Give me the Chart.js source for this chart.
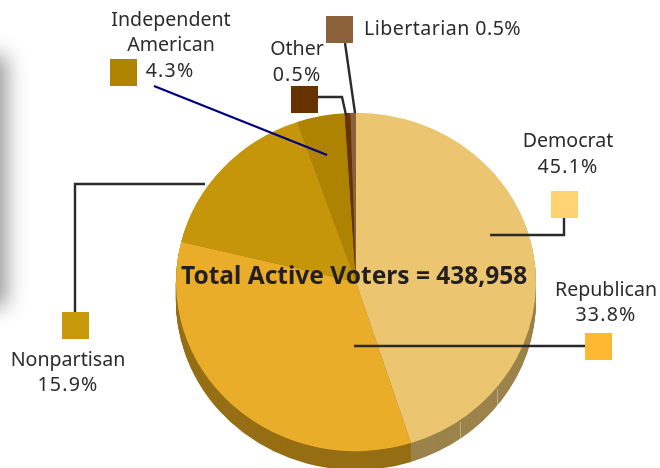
<!DOCTYPE html>
<html>
<head>
<meta charset="utf-8">
<style>
html, body { margin: 0; padding: 0; background: #fff; }
canvas { display: block; }
</style>
<script src="https://cdn.jsdelivr.net/npm/chart.js@4"></script>
</head>
<body>
<canvas id="grafica" width="660" height="468"></canvas>
<script>
const partidos = ['Democrat', 'Republican', 'Nonpartisan', 'Independent American', 'Other', 'Libertarian'];
const porcentajes = [45.1, 33.8, 15.9, 4.3, 0.5, 0.5];
const etiquetasTexto = [['Democrat', '45.1%'], ['Republican', '33.8%'], ['Nonpartisan', '15.9%'], ['Independent', 'American', '4.3%'], ['Other', '0.5%'], ['Libertarian 0.5%']];
const totalTexto = 'Total Active Voters = 438,958';

const coloresCara = ['#ecc570', '#eaad2a', '#c6960a', '#ae8302', '#663300', '#8a6239'];
const coloresLado = ['#9b834b', '#966e14', '#966e14', '#966e14', '#5a3000', '#6b4c2b'];
const coloresCuadro = ['#ffd272', '#ffb82f', '#c8990a', '#af8400', '#663300', '#8b6239'];

const ESCALA_Y = 0.94, PROFUNDIDAD = 20;
const fuente = '"Noto Sans", sans-serif';

function aplastar(ctx, chart) {
    const arco = chart.getDatasetMeta(0).data[0];
    ctx.translate(arco.x, arco.y);
    ctx.scale(1, ESCALA_Y);
    ctx.translate(-arco.x, -arco.y);
}

const pastel3d = {
    id: 'pastel3d',
    beforeDraw(chart) {
        // franja gris de la izquierda, solo se ve la sombra
        const ctx = chart.ctx;
        ctx.save();
        ctx.shadowColor = 'rgba(0,0,0,0.42)';
        ctx.shadowBlur = 20;
        ctx.shadowOffsetX = 1000;
        ctx.fillStyle = '#000';
        ctx.fillRect(-1060, 56, 66, 250);
        ctx.restore();
    },
    beforeDatasetsDraw(chart) {
        const ctx = chart.ctx;
        const arcos = chart.getDatasetMeta(0).data;
        ctx.save();
        aplastar(ctx, chart);
        for (let d = PROFUNDIDAD; d >= 1; d--) {
            arcos.forEach((a, i) => {
                ctx.fillStyle = coloresLado[i];
                ctx.beginPath();
                ctx.moveTo(a.x, a.y + d);
                ctx.arc(a.x, a.y + d, a.outerRadius, a.startAngle, a.endAngle);
                ctx.closePath();
                ctx.fill();
            });
        }
    },
    afterDatasetsDraw(chart) {
        chart.ctx.restore();
    },
    afterDraw(chart) {
        const ctx = chart.ctx;
        ctx.save();
        // brillos finos en el costado
        ctx.lineWidth = 1;
        ctx.strokeStyle = 'rgba(255,255,255,0.35)';
        ctx.beginPath();
        ctx.moveTo(460.5, 422);
        ctx.lineTo(460.5, 441);
        ctx.moveTo(497.5, 389);
        ctx.lineTo(497.5, 407);
        ctx.stroke();

        ctx.lineWidth = 2.4;
        ctx.lineJoin = 'miter';
        const linea = (color, pts) => {
            ctx.strokeStyle = color;
            ctx.beginPath();
            pts.forEach((p, i) => i ? ctx.lineTo(p[0], p[1]) : ctx.moveTo(p[0], p[1]));
            ctx.stroke();
        };
        linea('#2a2a2a', [[345, 43], [355, 113]]);
        linea('#2a2a2a', [[318, 97], [342, 97], [346, 115]]);
        linea('#000080', [[154, 86], [327, 155]]);
        linea('#2a2a2a', [[205, 184], [75, 184], [75, 312]]);
        linea('#2a2a2a', [[490, 235], [564, 235], [564, 218]]);
        linea('#2a2a2a', [[354, 346], [585, 346]]);

        const cuadros = [[551, 191], [585, 333], [62, 312], [110, 59], [291, 86], [326, 16]];
        cuadros.forEach((c, i) => {
            ctx.fillStyle = coloresCuadro[i];
            ctx.fillRect(c[0], c[1], 27, 27);
        });

        ctx.fillStyle = '#2b2b2b';
        ctx.font = '19.6px ' + fuente;
        ctx.textAlign = 'center';
        ctx.textBaseline = 'alphabetic';
        const nombres = [
            [etiquetasTexto[0][0], 568, 147],
            [etiquetasTexto[1][0], 606, 296],
            [etiquetasTexto[2][0], 68, 366],
            [etiquetasTexto[3][0], 171, 26], [etiquetasTexto[3][1], 171, 51],
            [etiquetasTexto[4][0], 297, 55]
        ];
        nombres.forEach(t => ctx.fillText(t[0], t[1], t[2]));
        // los porcentajes van algo más abiertos
        ctx.letterSpacing = '1.2px';
        const cifras = [
            [etiquetasTexto[0][1], 568, 173],
            [etiquetasTexto[1][1], 606, 321],
            [etiquetasTexto[2][1], 68, 391],
            [etiquetasTexto[3][2], 170, 77],
            [etiquetasTexto[4][1], 297, 81]
        ];
        cifras.forEach(t => ctx.fillText(t[0], t[1], t[2]));
        ctx.letterSpacing = '0.45px';
        ctx.textAlign = 'left';
        ctx.fillText(etiquetasTexto[5][0], 364, 35);
        ctx.letterSpacing = '0px';

        ctx.font = 'bold 24.5px ' + fuente;
        ctx.fillStyle = '#231f20';
        ctx.fillText(totalTexto, 181, 284);
        ctx.restore();
    }
};

new Chart(document.getElementById('grafica').getContext('2d'), {
    type: 'pie',
    data: {
        labels: partidos,
        datasets: [{
            data: porcentajes,
            backgroundColor: coloresCara,
            borderWidth: 0
        }]
    },
    options: {
        responsive: false,
        animation: false,
        devicePixelRatio: 1,
        layout: { padding: { left: 176, right: 124, top: 102, bottom: 6 } },
        plugins: {
            legend: { display: false },
            tooltip: { enabled: false },
            title: { display: false }
        }
    },
    plugins: [pastel3d]
});
</script>
</body>
</html>
